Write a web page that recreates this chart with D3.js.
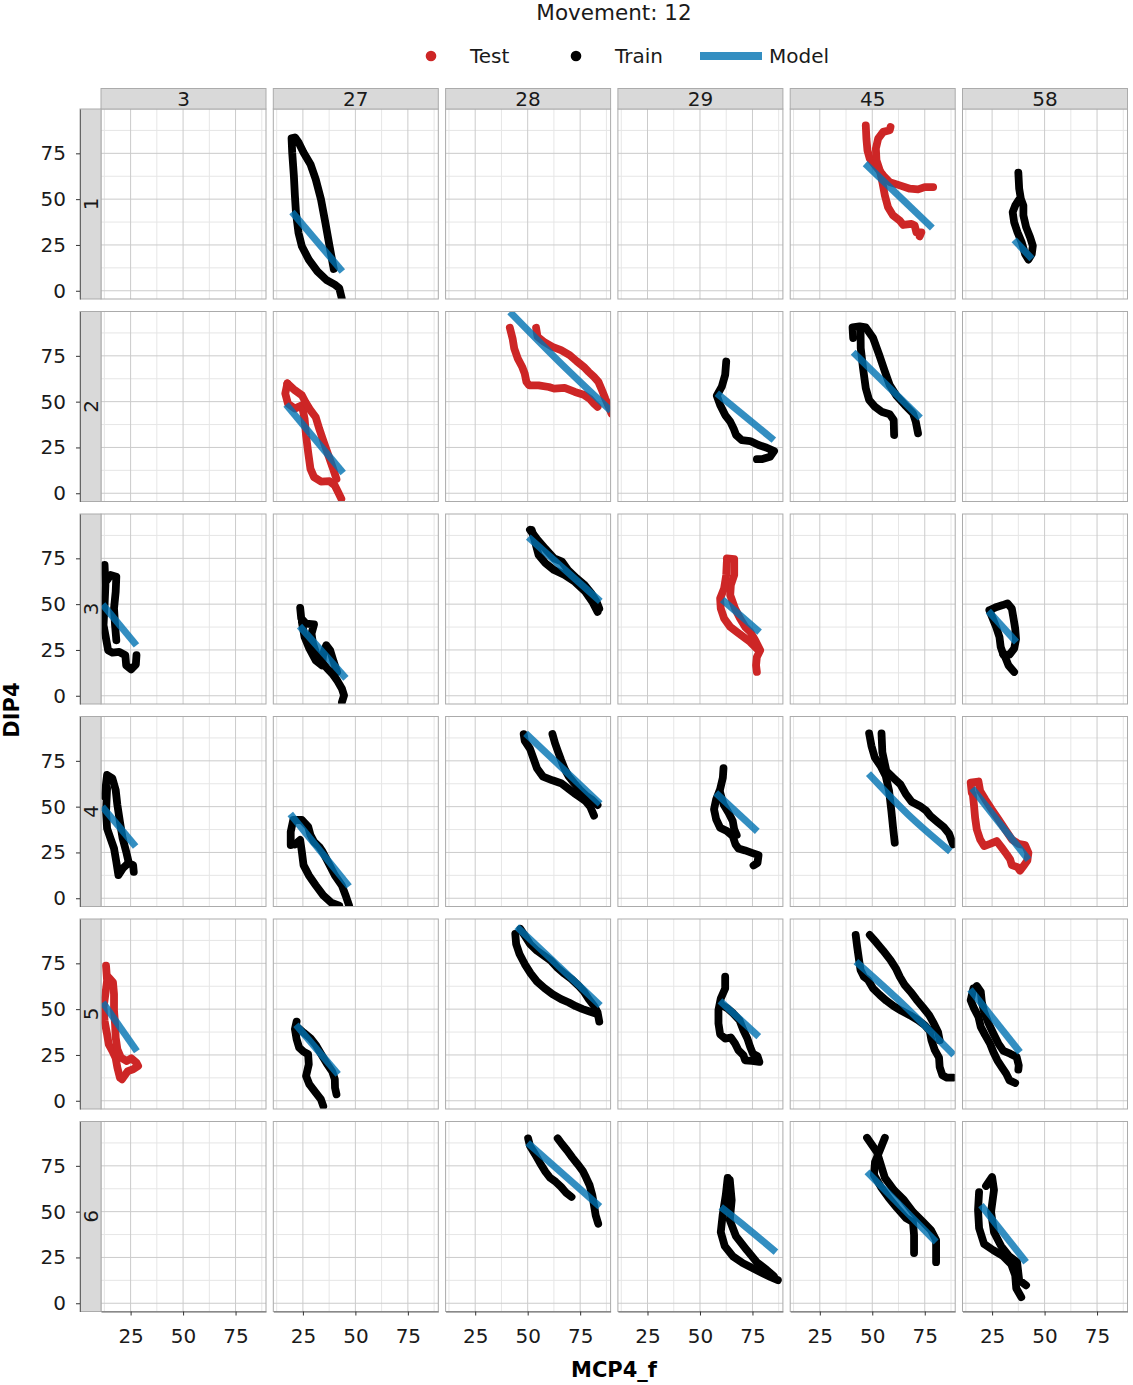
<!DOCTYPE html>
<html>
<head>
<meta charset="utf-8">
<script src="https://cdn.jsdelivr.net/npm/d3@7"></script>
<style>
  body { margin: 0; background: #fff; }
  text { font-family: "DejaVu Sans", sans-serif; }
</style>
</head>
<body>
<script>
// facet levels
const subjects = ["3", "27", "28", "29", "45", "58"];
const movements = ["1", "2", "3", "4", "5", "6"];
const xTicks = [25, 50, 75];
const xMinor = [12.5, 37.5, 62.5, 87.5];
const yTicks = [0, 25, 50, 75];
const yMinor = [12.5, 37.5, 62.5, 87.5];
const xLimits = [10.9, 89.5];
const yLimits = [-4.5, 99.2];
const legendItems = ["Test", "Train", "Model"];

// one array per movement row: subject, data set, traced strands (MCP4_f, DIP4), model curve
const trial1 = [
  { subject: "27", set: "Train",
    strands: [[[39.7,11.9],[37.7,24.3],[35.7,37.1],[33.6,49.9],[31.1,60.9],[28.6,69.1],[25.3,75.5],[22.9,81],[21.2,83.7],[19.6,83.2],[19.9,75.5],[20.7,62.7],[21.2,51.7],[21.7,42.6],[22.9,31.6],[24.5,24.3],[27.8,17],[31.9,10.6],[36.1,6],[40.2,3.3],[42.3,1.5],[43.5,-4]]],
    model: [[19.8,43],[43.8,10.5]] },
  { subject: "45", set: "Test",
    strands: [
      [[46.9,90.3],[47.2,83],[47.7,76.6],[48.8,72.1],[52,67.5],[55.2,63],[58.3,59.3],[63.1,57.5],[67.9,55.7],[71.8,55.3],[75,56.6],[79,56.6]],
      [[58.7,89.4],[58.3,87.6],[55.2,86.7],[52.8,83],[51.7,77.6],[52,71.2],[53.6,65.7],[54.8,59.3],[56,52],[57.5,45.6],[59.9,41.1],[63.1,38.3],[64.7,35.9],[68.7,36.5],[70.2,35.6],[71,31.9],[73.4,31.9],[72.6,29.7]]],
    model: [[46.6,69.4],[78.6,34.3]] },
  { subject: "58", set: "Train",
    strands: [[[37.5,64.4],[37.9,55.7],[38.7,50.2],[39.9,46.5],[39.9,41.1],[41.2,34.7],[43.1,29.2],[44.4,24.6],[43.9,20.1],[42.3,17],[40.7,20.1],[39.1,26.5],[37.1,31.9],[35.5,37.4],[34.8,42.9],[36,46.5],[37.5,49.3]]],
    model: [[35.5,27.8],[44,17.4]] }
];

const trial2 = [
  { subject: "27", set: "Test",
    strands: [
      [[17.6,59.9],[16.6,54.4],[17.9,48.9],[21.2,46.2],[24.5,48],[25.8,40.7],[26.5,31.6],[27.5,22.4],[28.6,13.3],[30.3,8.8],[33.6,6.4],[37.7,6.6],[40.2,4.2],[41.8,0.5],[43.3,-3]],
      [[17.6,59.9],[21.2,56.2],[24.5,53.5],[26.2,49.8],[28.6,45.3],[31.1,41.6],[32.8,35.2],[34.4,29.7],[36.9,21.5],[39.4,13.3],[41,7.8]]],
    model: [[17,48.5],[44.2,11]] },
  { subject: "28", set: "Test",
    strands: [
      [[41.5,90.3],[42.8,84.5],[43.6,79],[45.3,73.5],[47.4,68.9],[48.6,65.3],[49.4,60.8],[50.7,58.9],[55.2,58.9],[60.1,58],[62.6,57.1],[67.6,57.5],[72.5,55.3],[76.7,53.8],[79.5,51.6],[81.6,48.9],[83.3,47.1]],
      [[54,90.3],[54.7,85.4],[57.7,82.7],[61.8,79.9],[65.9,78.1],[70,75.4],[73.3,72.1],[76.7,69],[79.1,66.2],[81.6,63.5],[83.7,60.8],[85.4,56.2],[87,51.6],[88.7,47.1],[89.9,43.4]]],
    model: [[41.5,99],[65,71.8],[89.6,45]] },
  { subject: "29", set: "Train",
    strands: [[[62.5,71.9],[62,64.6],[60.4,58.2],[58,53.3],[59.6,48.2],[62,42.7],[64.4,39.1],[66,35.4],[67.2,31.8],[69.9,29],[73.9,28.5],[77.9,26.3],[81.8,24.8],[85.3,23],[83.4,19.9],[79.4,18.6],[77.1,18.6]]],
    model: [[58,54.6],[85.2,29]] },
  { subject: "45", set: "Train",
    strands: [
      [[40.9,84.7],[40.6,90.5],[44,91.1],[46.9,90.5],[50.4,84.7],[53.3,75.5],[56,66.4],[58.3,59.1],[61.5,53.3],[65.5,48.2],[69.4,43.6],[70.7,39.1],[71.8,32.7]],
      [[44.4,90.5],[44.5,79.2],[45.6,68.2],[46.9,57.3],[48.5,50.9],[51.2,47.3],[54.4,44.5],[58.3,43.1],[60.2,40],[60.4,31.8]]],
    model: [[40.9,77],[72.9,41.1]] }
];

const trial3 = [
  { subject: "3", set: "Train",
    strands: [
      [[12.6,71.4],[13,60.4],[12.6,49.5],[12.1,38.5],[13.3,31.2],[14.3,24.8],[16.3,23.5],[19.6,23.9],[22.5,22.1],[22.9,16.6],[25.3,14.4],[27.5,17],[27.8,22.1]],
      [[13.8,63.1],[15.4,65.9],[18.2,65],[17.9,56.8],[17.1,47.6],[17.6,38.5],[18.2,30.3]]],
    model: [[11.7,49.8],[27.8,27.5]] },
  { subject: "27", set: "Train",
    strands: [
      [[23.7,48],[24.2,42.2],[26.5,39.4],[30.3,38.9],[29.1,33.9],[29.8,28.5],[31.4,23],[33.7,18.8],[36.4,15.1],[39,12],[41.3,8.4],[43.6,3.8],[44.6,0.2],[43.6,-3.5]],
      [[24.5,40.3],[25.8,32.1],[28.1,25.7],[31.1,19.3],[34.1,16.6],[34.7,23],[36.1,27.6],[38,24.8],[39.7,18.4],[41.3,13]]],
    model: [[23.4,38],[45.5,9.5]] },
  { subject: "28", set: "Train",
    strands: [
      [[51.9,90.5],[53.5,84.1],[55.2,76.8],[58.5,72.3],[62.6,68.6],[67.6,65.9],[72.5,62.2],[77.5,56.8],[80.8,51.3],[83.3,45.8]],
      [[51.1,90.5],[54.4,85.6],[58.5,80.1],[62.6,75],[66.3,73.2],[69.2,68.6],[73.3,64.1],[77.1,60.4],[80.4,55.8],[82.8,51.3],[84.1,47.6]]],
    model: [[50.3,86.6],[84.6,51.5]] },
  { subject: "29", set: "Test",
    strands: [
      [[62.8,75],[66.3,74.6],[66.3,65.9],[64.7,60.4],[64.4,54.9],[66.7,47.6],[69.1,42.2],[71.5,37.6],[73.9,34.9],[76.3,30.3],[78.7,24.8],[77.1,21.2],[76.7,16.6],[77.1,13]],
      [[62.8,73.2],[62.5,65.9],[61.5,58.6],[59.6,53.1],[59.9,47.6],[61.5,42.2],[64.4,37.6],[67.5,34.9],[70.7,32.1],[73.9,29.4],[77.1,25.7]]],
    model: [[60.6,52.5],[78.4,34.7]] },
  { subject: "58", set: "Train",
    strands: [
      [[23.7,46.7],[27.2,48.5],[30.1,49.5],[32.3,50.4],[34.4,47.6],[35.2,42.2],[36,36.7],[36.4,30.8],[35.5,25.7],[33.3,22.4],[30.4,22.4],[29.1,26.6],[28.5,32.1],[26.9,37.6],[25.3,42.2],[23.7,46.7]],
      [[30.4,22.4],[31.2,21.2],[32.8,16.6],[35.5,13]]],
    model: [[23.2,46.2],[36.6,29.3]] }
];

const trial4 = [
  { subject: "3", set: "Train",
    strands: [
      [[12.6,55.5],[13.8,67.3],[16.3,65.5],[17.9,59.1],[18.7,50.9],[19.9,41.8],[21.2,32.7],[22.9,25.4],[24.2,19],[26.2,18.1],[26.5,14.4]],
      [[13.8,60],[13.3,47.3],[13.8,38.1],[15.4,32.7],[17.1,27.2],[18.2,19.9],[19.2,12.6],[21.2,16.2],[23.7,19]]],
    model: [[11.5,50],[27.4,28.2]] },
  { subject: "27", set: "Train",
    strands: [
      [[19.2,29],[19.2,36.3],[20.4,42.7],[24.5,42.7],[27.5,39.1],[28.6,34.5],[30.3,30.8],[32.8,28.1],[34.4,25.4],[36.9,19.9],[40.2,12.6],[43.5,7.1],[45.6,0.7],[47,-4]],
      [[21.2,29.4],[23.7,31.8],[24.5,25.4],[25.3,18.1],[27.8,12.6],[31.1,7.1],[34.7,1.6],[38.5,-2.4],[42.3,-4]]],
    model: [[19,46],[47,6.5]] },
  { subject: "28", set: "Train",
    strands: [
      [[48.1,89.6],[48.6,85.9],[51.1,81.6],[52.7,76.5],[54.4,71],[57.3,66.4],[61.8,64.4],[65.9,62.8],[69.2,60],[72.2,57.3],[75,55.1],[77.5,53.1],[79.8,50],[81.6,45.1]],
      [[61.8,89.6],[63,84.7],[64.3,80.5],[65.9,75.5],[67.6,70.6],[69.6,66.4],[72.2,62.8],[75,59.1],[77.8,56],[80.8,53.6],[83.3,50.9]]],
    model: [[49,90],[84.5,51.5]] },
  { subject: "29", set: "Train",
    strands: [
      [[61.2,71],[60.9,65.9],[59.6,59.5],[57.7,54],[56.7,48.5],[57.7,43.1],[59.6,38.5],[62.8,36.7],[65.6,33.9],[66.9,29.4],[68.3,27.2],[71.5,26.1],[74.7,24.8],[77.9,23.5],[77.4,19.3],[75.5,17.9]],
      [[59.6,57.7],[61.2,51.3],[63.6,46.7],[65.6,42.2],[66.3,37.6],[67.5,34.5]]],
    model: [[57.5,57.5],[77.3,36.5]] },
  { subject: "45", set: "Train",
    strands: [
      [[48.5,90],[49.6,83.2],[51.2,76.8],[53.9,72.3],[56.4,66.8],[58,58.6],[59.1,47.6],[59.9,38.5],[60.7,30.3]],
      [[54.4,90],[54.8,79.6],[56.7,69.5],[59.9,65.9],[63.4,62.2],[66,56.8],[68.7,52.7],[72.6,50.4],[75.5,48],[77.7,44.9],[80.9,41.8],[84,38.9],[86.6,35.2],[88.5,29.4]]],
    model: [[48.2,68],[66.8,46],[87.2,25.5]] },
  { subject: "58", set: "Test",
    strands: [[[15.3,57.7],[14.8,63.1],[18.5,63.7],[19.3,58.6],[21.7,54],[24.8,48.5],[28,43.1],[31.2,37.6],[34.4,32.1],[37.5,29.7],[40.7,29],[42.3,24.8],[41.8,20.6],[39.9,17.5],[38.3,15.1],[37.1,17],[34.4,18.1],[33.6,21.2],[32,23.9],[29.6,27.6],[27.2,31.2],[24,29.7],[21.2,28.5],[19.3,32.1],[17.7,37.6],[16.9,44],[16.4,50.4],[15.8,56.8]]],
    model: [[15.5,60],[42.3,21]] }
];

const trial5 = [
  { subject: "3", set: "Test",
    strands: [
      [[13.3,73.7],[13.8,65.5],[13,58.2],[12.1,50.9],[12.6,43.6],[13.8,36.3],[14.6,30.8],[16.3,27.2],[17.9,23.2],[18.7,18.1],[19.9,12.6]],
      [[14.6,67.3],[16.6,64.6],[17.1,58.2],[17.1,49.1],[17.6,41.8],[17.9,34.5],[18.7,28.1],[20.4,23.5],[23.2,21.7],[25.3,23.2],[27.8,20.8],[28.6,19],[26.2,17.2],[23.7,16.2],[22,13.5],[20.9,11.7]]],
    model: [[11.8,53.6],[28,27]] },
  { subject: "27", set: "Train",
    strands: [
      [[22,43.2],[21.2,39.1],[22,33.6],[23.2,29],[25.3,26.8],[27.5,25.4],[27.8,19.9],[26.5,13.5],[28.1,8.9],[31.1,4.4],[33.6,0.7],[34.7,-2.9]],
      [[22.5,40],[25.3,37.2],[28.6,34.1],[31.1,30.5],[33.6,25.7],[36.4,20.3],[39,15.9],[40.2,11.7],[40.3,7.1],[41,3.5]]],
    model: [[21.7,41.5],[41.8,14.4]] },
  { subject: "28", set: "Train",
    strands: [
      [[46.5,93.8],[48.6,90.1],[51.1,85.6],[54.4,81.9],[57.7,79.2],[61,76.5],[64.3,72.4],[67.6,69.2],[70.9,66.4],[74.2,62.8],[76.7,59.7],[79.1,55.5],[81.6,51.8],[83.3,48.2],[84.1,43.2]],
      [[44.1,91.1],[44.5,85.6],[46.1,80.1],[48.6,74.6],[51.4,69.5],[54.4,65.1],[58,61.5],[61.8,58.2],[65.9,55.5],[69.6,53.6],[72.9,51.6],[76.2,50],[79.5,48.7],[82.4,47.6]]],
    model: [[44.8,95],[84.6,52]] },
  { subject: "29", set: "Train",
    strands: [[[62,67.7],[62,61.3],[59.9,55.8],[58.8,49.5],[58.8,42.2],[59.6,36.3],[62,33.9],[64.7,34.5],[66.7,31.2],[68.3,27.6],[70.7,24.8],[71.5,22.1],[74.7,21.7],[78.3,21.2],[77.4,24.3],[75.2,25.7],[73.9,29.4],[72.6,33.9],[70.7,38.5],[68.8,44],[65.9,47.6],[63.1,50.4],[60.4,52.2]]],
    model: [[59.5,54.5],[78,35]] },
  { subject: "45", set: "Train",
    strands: [
      [[42.1,90.5],[42.8,84.1],[43.7,76.8],[44.4,71.4],[46,67.7],[48,65.9],[50.4,61.3],[53.6,57.7],[56.7,54.6],[60.2,51.6],[63.9,49.1],[67.9,46.7],[71.8,44],[75,41.2],[77.4,38.1],[78.2,33],[79.8,27.6],[81.8,23.5],[82.1,18.4],[83.4,13.9],[85.6,12.6],[88.8,12.6]],
      [[48.8,90.5],[52,86.3],[55.2,81.9],[58.7,76.8],[61.2,72.3],[63.1,67.7],[65.5,63.1],[68.2,59.5],[71,55.3],[74.2,50.9],[77.1,46.7],[79.3,42.2],[81.3,37.6],[82.1,33]]],
    model: [[42.2,76],[62,55.5],[88.8,25]] },
  { subject: "58", set: "Train",
    strands: [
      [[17.7,62.6],[19.6,59.5],[20.1,54],[21.2,48.5],[23.3,42.2],[25.6,36.7],[28,31.2],[30.4,27.2],[33.6,25.7],[36.7,23.9],[37.7,19.3],[37.5,17]],
      [[16.1,61.3],[14.8,54.9],[16.4,50.4],[18.5,45.8],[19.6,40.3],[21.7,35.8],[24,31.2],[25.6,26.6],[27.5,22.1],[29.6,18.4],[31.7,14.8],[33.3,11.1],[36,9.7]]],
    model: [[14.5,60.8],[38.3,26.5]] }
];

const trial6 = [
  { subject: "28", set: "Train",
    strands: [
      [[50.2,90],[51.1,85.8],[53.5,81.4],[56,76.3],[58.5,71.7],[60.6,68.6],[63.4,66.2],[65.9,63.5],[68.4,60.2],[70.9,58]],
      [[64.3,90],[66.3,86.9],[68.9,83.2],[71.2,79.6],[73.8,75.9],[76.2,72.3],[77.8,68.6],[79.5,64.4],[80.8,58.9],[81.6,53.5],[82.4,48],[83.6,43.4]]],
    model: [[50,87.5],[84.4,52.7]] },
  { subject: "29", set: "Train",
    strands: [
      [[63.2,68.4],[62.3,59.1],[60.8,48.1],[59.9,38.8],[61.8,31.2],[65.6,25.7],[70.4,21.9],[75.2,19.1],[79.9,16.4],[83.8,14.2],[87.1,12.6]],
      [[64.2,67.3],[65.1,56.3],[64.2,45.4],[67.1,36.7],[72.3,29],[77.1,22.4],[81.9,18.1],[85.2,14.8]]],
    model: [[59.9,52.5],[72,41.5],[86.2,27.9]] },
  { subject: "45", set: "Train",
    strands: [
      [[47.5,90.3],[52.2,82.6],[54.1,75.5],[56,68.4],[60.3,61.8],[65.1,56.3],[69.4,49.8],[74.2,44.3],[78,39.9],[80.4,34.5],[80.4,22.4]],
      [[56,90.3],[53.7,83.7],[51.3,77.1],[50.8,70],[54.1,63.5],[57.9,57.4],[61.8,52],[66.1,46.5],[69.4,44.3],[69.9,37.2],[69.9,27.4]]],
    model: [[47.5,71.7],[80.4,33.4]] },
  { subject: "58", set: "Train",
    strands: [
      [[18.8,60.7],[18.3,50.9],[18.8,41],[21.2,32.3],[25.5,29],[30.3,25.7],[34.1,21.3],[36,15.3],[36.5,8.2],[38.9,3.3]],
      [[22.1,64],[25,68.9],[25.9,61.8],[24.5,49.8],[25.9,38.8],[29.3,31.2],[33.1,25.7],[36.9,22.4],[37.9,12.6],[41.2,9.8]]],
    model: [[19.7,53.6],[41.2,22.4]] }
];

const trials = [trial1, trial2, trial3, trial4, trial5, trial6];
const colors = { Test: "#CD2626", Train: "#000000", Model: "#0072B2" };

// layout
const W = 1133, H = 1385;
const left0 = 101, top0 = 109;
const panelW = 165, panelH = 190;
const colStep = 172.3, rowStep = 202.5;
const stripH = 20.5, stripW = 21;

const svg = d3.select("body").append("svg")
  .attr("width", W).attr("height", H)
  .style("display", "block");
svg.append("rect").attr("width", W).attr("height", H).attr("fill", "#fff");

const x = d3.scaleLinear().domain(xLimits).range([0, panelW]);
const y = d3.scaleLinear().domain(yLimits).range([panelH, 0]);
const trace = d3.line().x(d => x(d[0])).y(d => y(d[1]));
const fit = d3.line().x(d => x(d[0])).y(d => y(d[1])).curve(d3.curveMonotoneX);

svg.append("defs").append("clipPath").attr("id", "panelClip")
  .append("rect").attr("width", panelW).attr("height", panelH);

movements.forEach((m, r) => {
  subjects.forEach((s, c) => {
    const g = svg.append("g")
      .attr("transform", `translate(${left0 + c * colStep},${top0 + r * rowStep})`);
    g.append("rect").attr("width", panelW).attr("height", panelH).attr("fill", "#fff");

    // grid
    g.selectAll(".vminor").data(xMinor).join("line")
      .attr("x1", d => x(d)).attr("x2", d => x(d)).attr("y1", 0).attr("y2", panelH)
      .attr("stroke", "#e6e6e6").attr("stroke-width", 1);
    g.selectAll(".hminor").data(yMinor).join("line")
      .attr("y1", d => y(d)).attr("y2", d => y(d)).attr("x1", 0).attr("x2", panelW)
      .attr("stroke", "#e6e6e6").attr("stroke-width", 1);
    g.selectAll(".vmajor").data(xTicks).join("line")
      .attr("x1", d => x(d)).attr("x2", d => x(d)).attr("y1", 0).attr("y2", panelH)
      .attr("stroke", "#cbcbcb").attr("stroke-width", 1);
    g.selectAll(".hmajor").data(yTicks).join("line")
      .attr("y1", d => y(d)).attr("y2", d => y(d)).attr("x1", 0).attr("x2", panelW)
      .attr("stroke", "#cbcbcb").attr("stroke-width", 1);

    const inner = g.append("g").attr("clip-path", "url(#panelClip)");
    const cells = trials[r].filter(p => p.subject === s);
    cells.forEach(p => {
      inner.selectAll(null).data(p.strands).join("path")
        .attr("d", trace)
        .attr("fill", "none")
        .attr("stroke", colors[p.set])
        .attr("stroke-width", 7.8)
        .attr("stroke-linecap", "round")
        .attr("stroke-linejoin", "round");
    });
    cells.forEach(p => {
      inner.append("path")
        .attr("d", fit(p.model))
        .attr("fill", "none")
        .attr("stroke", colors.Model)
        .attr("stroke-opacity", 0.8)
        .attr("stroke-width", 7)
        .attr("stroke-linecap", "butt");
    });

    g.append("rect").attr("width", panelW).attr("height", panelH)
      .attr("fill", "none").attr("stroke", "#ababab").attr("stroke-width", 1);
  });
});

// top strips
subjects.forEach((s, c) => {
  const gx = left0 + c * colStep;
  svg.append("rect")
    .attr("x", gx).attr("y", top0 - stripH).attr("width", panelW).attr("height", stripH)
    .attr("fill", "#d9d9d9").attr("stroke", "#ababab").attr("stroke-width", 1);
  svg.append("text")
    .attr("x", gx + panelW / 2).attr("y", top0 - stripH / 2)
    .attr("text-anchor", "middle").attr("dominant-baseline", "central")
    .attr("font-size", 20).attr("fill", "#1a1a1a").text(s);
});

// left strips
movements.forEach((m, r) => {
  const gy = top0 + r * rowStep;
  svg.append("rect")
    .attr("x", left0 - stripW).attr("y", gy).attr("width", stripW).attr("height", panelH)
    .attr("fill", "#d9d9d9").attr("stroke", "#ababab").attr("stroke-width", 1);
  svg.append("text")
    .attr("transform", `translate(${left0 - stripW / 2},${gy + panelH / 2}) rotate(-90)`)
    .attr("text-anchor", "middle").attr("dominant-baseline", "central")
    .attr("font-size", 20).attr("fill", "#1a1a1a").text(m);
});

// axes
function styleAxis(sel) {
  sel.selectAll("text").attr("font-size", 20).attr("fill", "#1a1a1a")
    .attr("font-family", "DejaVu Sans, sans-serif");
  sel.selectAll(".tick line").attr("stroke", "#333");
  sel.select(".domain").attr("stroke", "#666");
}
movements.forEach((m, r) => {
  svg.append("g")
    .attr("transform", `translate(${left0 - stripW},${top0 + r * rowStep})`)
    .call(d3.axisLeft(y).tickValues(yTicks).tickSize(4).tickSizeOuter(0).tickPadding(10))
    .call(styleAxis);
});
subjects.forEach((s, c) => {
  svg.append("g")
    .attr("transform", `translate(${left0 + c * colStep},${top0 + 5 * rowStep + panelH})`)
    .call(d3.axisBottom(x).tickValues(xTicks).tickSize(4).tickSizeOuter(0).tickPadding(13))
    .call(styleAxis);
});

// axis titles
svg.append("text")
  .attr("x", 614).attr("y", 1377)
  .attr("text-anchor", "middle").attr("font-size", 21).attr("font-weight", "bold")
  .text("MCP4_f");
svg.append("text")
  .attr("transform", "translate(19,710) rotate(-90)")
  .attr("text-anchor", "middle").attr("font-size", 21).attr("font-weight", "bold")
  .text("DIP4");

// title and legend
svg.append("text")
  .attr("x", 614).attr("y", 19.5)
  .attr("text-anchor", "middle").attr("font-size", 21.5).attr("fill", "#1a1a1a")
  .text("Movement: 12");

const legendX = [431, 576, 700];
const legendTextX = [470, 615, 769];
const legendY = 56;
legendItems.forEach((name, i) => {
  if (name === "Model") {
    svg.append("line")
      .attr("x1", legendX[i]).attr("x2", legendX[i] + 62)
      .attr("y1", legendY).attr("y2", legendY)
      .attr("stroke", colors.Model).attr("stroke-opacity", 0.8).attr("stroke-width", 8);
  } else {
    svg.append("circle")
      .attr("cx", legendX[i]).attr("cy", legendY).attr("r", 5.3)
      .attr("fill", colors[name]);
  }
  svg.append("text")
    .attr("x", legendTextX[i]).attr("y", legendY)
    .attr("dominant-baseline", "central").attr("font-size", 20).attr("fill", "#1a1a1a")
    .text(name);
});
</script>
</body>
</html>
